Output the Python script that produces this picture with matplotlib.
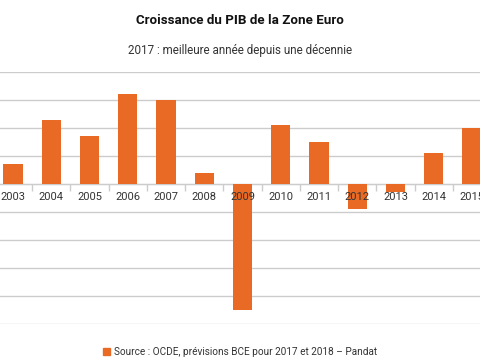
import numpy as np
import matplotlib
matplotlib.use("Agg")
import matplotlib.pyplot as plt
from matplotlib.patches import Patch

matplotlib.rcParams.update({
    "font.family": ["Roboto", "DejaVu Sans"],
    "font.size": 8,
})

# data (croissance du PIB, %)
years = ["2003", "2004", "2005", "2006", "2007", "2008", "2009",
         "2010", "2011", "2012", "2013", "2014", "2015"]
growth = [0.7, 2.3, 1.7, 3.2, 3.0, 0.4, -4.5, 2.1, 1.5, -0.9, -0.3, 1.1, 2.0]
y_ticks = [-5, -4, -3, -2, -1, 0, 1, 2, 3, 4]

BAR = "#E96A24"
GRID = "#CCCCCC"
TXT = "#333333"

fig = plt.figure(figsize=(4.8, 3.6), dpi=100)
ax = fig.add_axes([0.0, 0.1, 1.0, 0.7])

x = np.arange(len(years))
ax.bar(x, growth, width=0.5, color=BAR, zorder=1)

for v in y_ticks:
    ax.axhline(v, color=GRID, linewidth=1, zorder=0.5)

ax.set_ylim(-5, 4)
ax.set_xlim(-0.34, 12.21)
ax.set_yticks([])

for s in ["top", "right", "left"]:
    ax.spines[s].set_visible(False)
ax.spines["bottom"].set_position(("data", 0))
ax.spines["bottom"].set_color(GRID)
ax.spines["bottom"].set_zorder(0.6)

ax.set_xticks(x)
ax.set_xticklabels(years, color=TXT, fontsize=8)
ax.tick_params(axis="x", which="major", length=0, pad=6)
ax.set_xticks(x[:-1] + 0.5, minor=True)
ax.tick_params(axis="x", which="minor", length=5, color=GRID, width=1)

fig.text(0.5, 0.942, "Croissance du PIB de la Zone Euro", ha="center", va="center",
         fontsize=9.6, fontweight="bold", color="#111111")
fig.text(0.5, 0.861, "2017 : meilleure année depuis une décennie", ha="center",
         va="center", fontsize=8.4, color=TXT)

fig.legend(handles=[Patch(color=BAR, label="Source : OCDE, prévisions BCE pour 2017 et 2018 – Pandat")],
           loc="center", bbox_to_anchor=(0.5, 0.022), frameon=False, fontsize=7.2,
           handlelength=0.7, handleheight=0.7, handletextpad=0.4, labelcolor=TXT)

fig.savefig("out.png", dpi=100)
